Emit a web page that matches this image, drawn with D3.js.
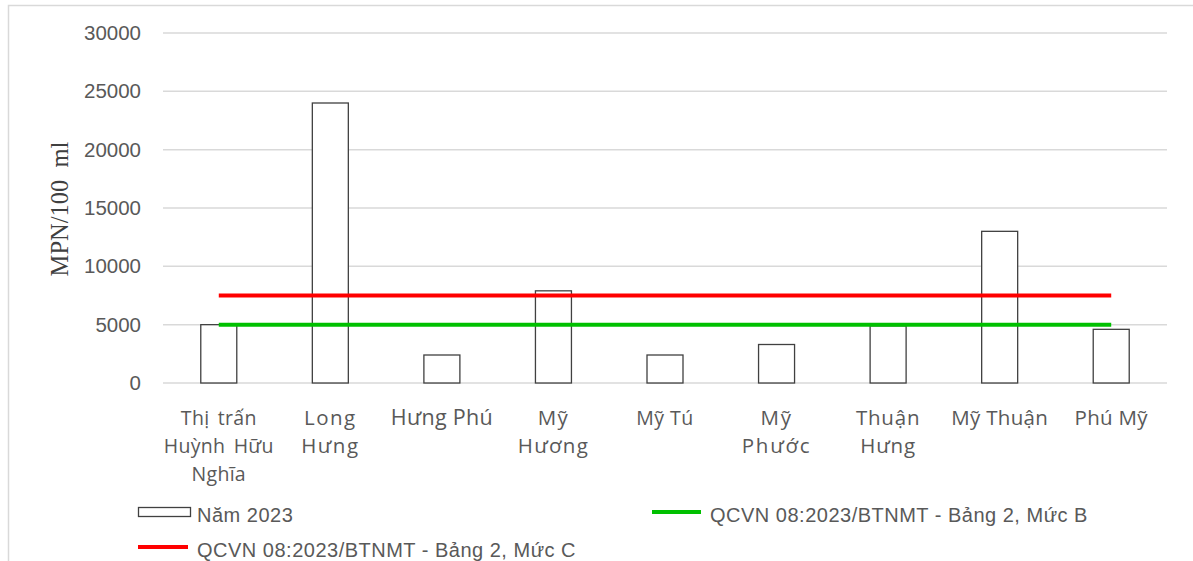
<!DOCTYPE html>
<html>
<head>
<meta charset="utf-8">
<script src="https://cdn.jsdelivr.net/npm/d3@7"></script>
<style>
  html, body { margin: 0; padding: 0; background: #fff; }
  svg { display: block; }
</style>
</head>
<body>
<svg id="chart" width="1193" height="561"></svg>
<script>
// ---- data ----
const categories = [
  "Thị trấn Huỳnh Hữu Nghĩa", "Long Hưng", "Hưng Phú", "Mỹ Hương", "Mỹ Tú",
  "Mỹ Phước", "Thuận Hưng", "Mỹ Thuận", "Phú Mỹ"
];
const categoryLines = [
  ["Thị trấn", "Huỳnh Hữu", "Nghĩa"], ["Long", "Hưng"], ["Hưng Phú"], ["Mỹ", "Hương"], ["Mỹ Tú"],
  ["Mỹ", "Phước"], ["Thuận", "Hưng"], ["Mỹ Thuận"], ["Phú Mỹ"]
];
const values2023 = [5000, 24000, 2400, 7900, 2400, 3300, 4900, 13000, 4600];
const limitB = [5000, 5000, 5000, 5000, 5000, 5000, 5000, 5000, 5000];
const limitC = [7500, 7500, 7500, 7500, 7500, 7500, 7500, 7500, 7500];
const yTicks = [0, 5000, 10000, 15000, 20000, 25000, 30000];
const seriesNames = ["Năm 2023", "QCVN 08:2023/BTNMT - Bảng 2, Mức B", "QCVN 08:2023/BTNMT - Bảng 2, Mức C"];
const yTitle = "MPN/100  ml";

// ---- style (not data) ----
const labelFontSize = [19.5, 20.5, 21.5, 20.5, 19.5, 20.5, 20.5, 20.5, 20.5];
const labelLetterSpacing = [0.3, 1.5, 0.3, 1.3, 0.5, 1.8, 0.8, 0.3, 0.3];
const labelWordSpacing = [3, 0, 0, 0, 0, 0, 0, 0, 0];
const colorB = "#00c000";
const colorC = "#ff0000";

const svg = d3.select("#chart");
const W = 1193, H = 561;
const plot = { left: 163, right: 1167, top: 33, bottom: 383 };

// outer border
svg.append("rect")
  .attr("x", 8.5).attr("y", 5.5)
  .attr("width", W + 20).attr("height", H + 20)
  .attr("fill", "#fff").attr("stroke", "#d9d9d9").attr("stroke-width", 1.5);

const x = d3.scaleBand().domain(categories).range([plot.left, plot.right]).paddingInner(0).paddingOuter(0);
const y = d3.scaleLinear().domain([0, 30000]).range([plot.bottom, plot.top]);

// gridlines
svg.append("g").selectAll("line").data(yTicks).join("line")
  .attr("x1", plot.left).attr("x2", plot.right)
  .attr("y1", d => y(d)).attr("y2", d => y(d))
  .attr("stroke", "#d9d9d9").attr("stroke-width", 1.5);

// y-axis tick labels
const yAxis = d3.axisLeft(y).tickValues(yTicks).tickSize(0).tickPadding(0).tickFormat(d3.format("d"));
const gy = svg.append("g").attr("transform", `translate(${141},0)`).call(yAxis);
gy.select(".domain").remove();
gy.selectAll("text")
  .attr("font-family", "'Liberation Sans', Arial, sans-serif")
  .attr("font-size", 20.5).attr("fill", "#595959");

// y title
svg.append("text")
  .attr("transform", `translate(68,${209}) rotate(-90)`)
  .attr("text-anchor", "middle")
  .attr("font-family", "'Liberation Serif', 'Times New Roman', serif")
  .attr("font-size", 24.5).attr("fill", "#404040")
  .style("white-space", "pre")
  .text(yTitle);

// bars
const barW = 36;
svg.append("g").selectAll("rect").data(values2023).join("rect")
  .attr("x", (d, i) => x(categories[i]) + x.bandwidth() / 2 - barW / 2)
  .attr("y", d => y(d))
  .attr("width", barW)
  .attr("height", d => y(0) - y(d))
  .attr("fill", "#fff").attr("stroke", "#404040").attr("stroke-width", 1.3);

// limit lines
const line = d3.line()
  .x((d, i) => x(categories[i]) + x.bandwidth() / 2)
  .y(d => y(d));
svg.append("path").datum(limitC).attr("d", line)
  .attr("fill", "none").attr("stroke", colorC).attr("stroke-width", 4);
svg.append("path").datum(limitB).attr("d", line)
  .attr("fill", "none").attr("stroke", colorB).attr("stroke-width", 4);

// x labels
const xl = svg.append("g");
categories.forEach((c, i) => {
  const t = xl.append("text")
    .attr("x", x(c) + x.bandwidth() / 2)
    .attr("y", 425)
    .attr("text-anchor", "middle")
    .attr("font-family", "'Open Sans', 'Liberation Sans', sans-serif")
    .attr("font-size", labelFontSize[i])
    .attr("letter-spacing", labelLetterSpacing[i])
    .attr("word-spacing", labelWordSpacing[i])
    .attr("fill", "#595959");
  categoryLines[i].forEach((ln, j) => {
    t.append("tspan").attr("x", x(c) + x.bandwidth() / 2).attr("dy", j === 0 ? 0 : 28).text(ln);
  });
});

// legend
const lg = svg.append("g")
  .attr("font-family", "'Liberation Sans', sans-serif")
  .attr("font-size", 20).attr("letter-spacing", 0.5).attr("fill", "#595959");
lg.append("rect").attr("x", 138.5).attr("y", 507.5).attr("width", 52).attr("height", 9)
  .attr("fill", "#fff").attr("stroke", "#404040").attr("stroke-width", 1.3);
lg.append("text").attr("x", 197).attr("y", 522).text(seriesNames[0]);
lg.append("line").attr("x1", 652).attr("x2", 701).attr("y1", 512).attr("y2", 512)
  .attr("stroke", colorB).attr("stroke-width", 4);
lg.append("text").attr("x", 710).attr("y", 522).text(seriesNames[1]);
lg.append("line").attr("x1", 138).attr("x2", 188).attr("y1", 547).attr("y2", 547)
  .attr("stroke", colorC).attr("stroke-width", 4);
lg.append("text").attr("x", 197).attr("y", 557).text(seriesNames[2]);
</script>
</body>
</html>
